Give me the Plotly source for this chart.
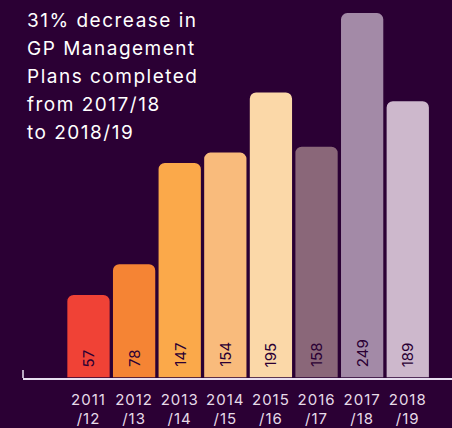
import plotly.graph_objects as go

categories = ["2011/12", "2012/13", "2013/14", "2014/15", "2015/16", "2016/17", "2017/18", "2018/19"]
tick_labels = ["2011<br>/12", "2012<br>/13", "2013<br>/14", "2014<br>/15", "2015<br>/16", "2016<br>/17", "2017<br>/18", "2018<br>/19"]
plans_completed = [57, 78, 147, 154, 195, 158, 249, 189]
bar_colors = ["#f04236", "#f58434", "#fba94a", "#f9bb7c", "#fbd8a8", "#8a6779", "#a38aa7", "#cdb8cc"]
title_lines = ["31% decrease in", "GP Management", "Plans completed", "from 2017/18", "to 2018/19"]

BG = "#2b0034"
FONT = "Inter"

fig = go.Figure()
fig.add_trace(go.Bar(
    x=categories,
    y=plans_completed,
    width=0.96,
    marker=dict(color=bar_colors, line=dict(color=BG, width=1.5), cornerradius=7),
    hoverinfo="skip",
))

annotations = []
for i, line in enumerate(title_lines):
    annotations.append(dict(
        x=0, y=1, xref="paper", yref="paper", text=line, showarrow=False,
        xanchor="left", yanchor="middle", xshift=2, yshift=-20 - 28 * i,
        font=dict(family=FONT, size=19, color="#ffffff"),
    ))
for cat, val in zip(categories, plans_completed):
    annotations.append(dict(
        x=cat, y=0, xref="x", yref="y", text=str(val), textangle=-90,
        showarrow=False, xanchor="center", yanchor="bottom", yshift=9,
        font=dict(family=FONT, size=15, color=BG),
    ))

fig.update_layout(
    width=452, height=428,
    margin=dict(l=23, r=0, t=0, b=47),
    paper_bgcolor=BG, plot_bgcolor=BG,
    showlegend=False,
    annotations=annotations,
    shapes=[dict(type="line", xref="paper", x0=0, x1=0, yref="y", ysizemode="pixel",
                 yanchor=0, y0=0, y1=8, line=dict(color="#e8dff0", width=1.5))],
    xaxis=dict(
        range=[-1.436, 7.97], tickmode="array", tickvals=categories, ticktext=tick_labels,
        showline=True, linecolor="#e8dff0", linewidth=1.5, showgrid=False, zeroline=False,
        ticks="", ticklabelstandoff=7,
        tickfont=dict(family=FONT, size=15, color="#e6dbe8"), fixedrange=True,
    ),
    yaxis=dict(range=[0, 257.4], visible=False, showgrid=False, zeroline=False, fixedrange=True),
)

post = f"""
document.body.style.margin = '0';
document.body.style.overflow = 'hidden';
document.querySelectorAll('g.annotation').forEach(function(g) {{
  var idx = +g.getAttribute('data-index');
  if (idx < {len(title_lines)}) {{
    g.querySelectorAll('text').forEach(function(t) {{
      var bb = t.getBBox();
      t.setAttribute('text-anchor', 'start');
      t.setAttribute('x', bb.x);
      t.style.letterSpacing = '1.5px';
    }});
  }}
}});
document.querySelectorAll('.xtick text').forEach(function(t) {{ t.style.letterSpacing = '1px'; }});
"""

fig.write_html("out.html", config={"displayModeBar": False}, post_script=post)
